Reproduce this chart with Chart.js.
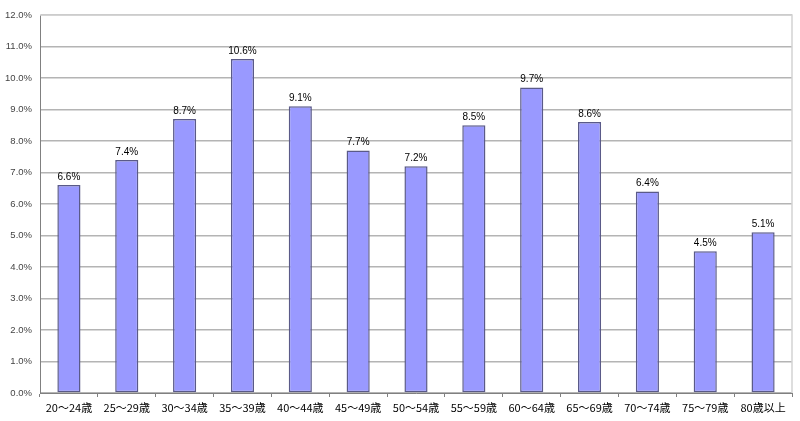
<!DOCTYPE html>
<html>
<head>
<meta charset="utf-8">
<script src="https://cdn.jsdelivr.net/npm/chart.js@4.4.0/dist/chart.umd.min.js"></script>
<style>
  html, body { margin: 0; padding: 0; background: #fff; }
  #wrap { width: 800px; height: 421px; }
</style>
</head>
<body>
<div id="wrap"><canvas id="ageChart" width="800" height="421"></canvas></div>
<script>
const AGE_GROUPS = ['20～24歳','25～29歳','30～34歳','35～39歳','40～44歳','45～49歳','50～54歳','55～59歳','60～64歳','65～69歳','70～74歳','75～79歳','80歳以上'];
const SHARE = [6.6, 7.4, 8.7, 10.6, 9.1, 7.7, 7.2, 8.5, 9.7, 8.6, 6.4, 4.5, 5.1];
const Y_MAX = 12;
const Y_STEP = 1;

// draw value labels over each bar
const valueLabels = {
  id: 'valueLabels',
  afterDatasetsDraw(chart){
    const ctx = chart.ctx;
    const meta = chart.getDatasetMeta(0);
    ctx.save();
    ctx.font = '10px "Liberation Sans", Arial, sans-serif';
    ctx.fillStyle = '#000';
    ctx.textAlign = 'center';
    ctx.textBaseline = 'bottom';
    meta.data.forEach((bar, i) => {
      ctx.fillText(SHARE[i].toFixed(1) + '%', bar.x, bar.y - 3);
    });
    ctx.restore();
  }
};

// right and top border of the plot area
const plotFrame = {
  id: 'plotFrame',
  beforeDatasetsDraw(chart){
    const {ctx, chartArea: a} = chart;
    ctx.save();
    ctx.strokeStyle = '#d4d4d4';
    ctx.lineWidth = 1.5;
    ctx.beginPath();
    ctx.moveTo(a.left, a.top);
    ctx.lineTo(a.right, a.top);
    ctx.lineTo(a.right, a.bottom);
    ctx.stroke();
    ctx.restore();
  }
};

new Chart(document.getElementById('ageChart').getContext('2d'), {
  type: 'bar',
  data: {
    labels: AGE_GROUPS,
    datasets: [{
      data: SHARE,
      backgroundColor: '#9999ff',
      borderColor: '#5a5a88',
      borderWidth: 1.5,
      borderSkipped: false,
      categoryPercentage: 1,
      barPercentage: 0.4
    }]
  },
  options: {
    responsive: false,
    animation: false,
    layout: { padding: { top: 15, right: 8, left: 0, bottom: 0 } },
    plugins: { legend: { display: false }, tooltip: { enabled: false } },
    scales: {
      x: {
        afterFit(s){ s.height = 28; },
        grid: { offset: true, drawOnChartArea: false, tickLength: 4, color: '#808080' },
        border: { color: '#808080', width: 1 },
        ticks: { color: '#000', font: { size: 11, family: '"Noto Sans CJK JP", sans-serif' }, padding: 4, maxRotation: 0, autoSkip: false }
      },
      y: {
        min: 0,
        max: Y_MAX,
        afterFit(s){ s.width = 40; },
        grid: { color: '#b4b4b4', lineWidth: 1.5, tickLength: 0 },
        border: { color: '#808080', width: 1 },
        ticks: {
          stepSize: Y_STEP,
          color: '#444',
          padding: 8,
          font: { size: 9.5, family: '"Liberation Sans", Arial, sans-serif' },
          callback: v => v.toFixed(1) + '%'
        }
      }
    }
  },
  plugins: [plotFrame, valueLabels]
});
</script>
</body>
</html>
